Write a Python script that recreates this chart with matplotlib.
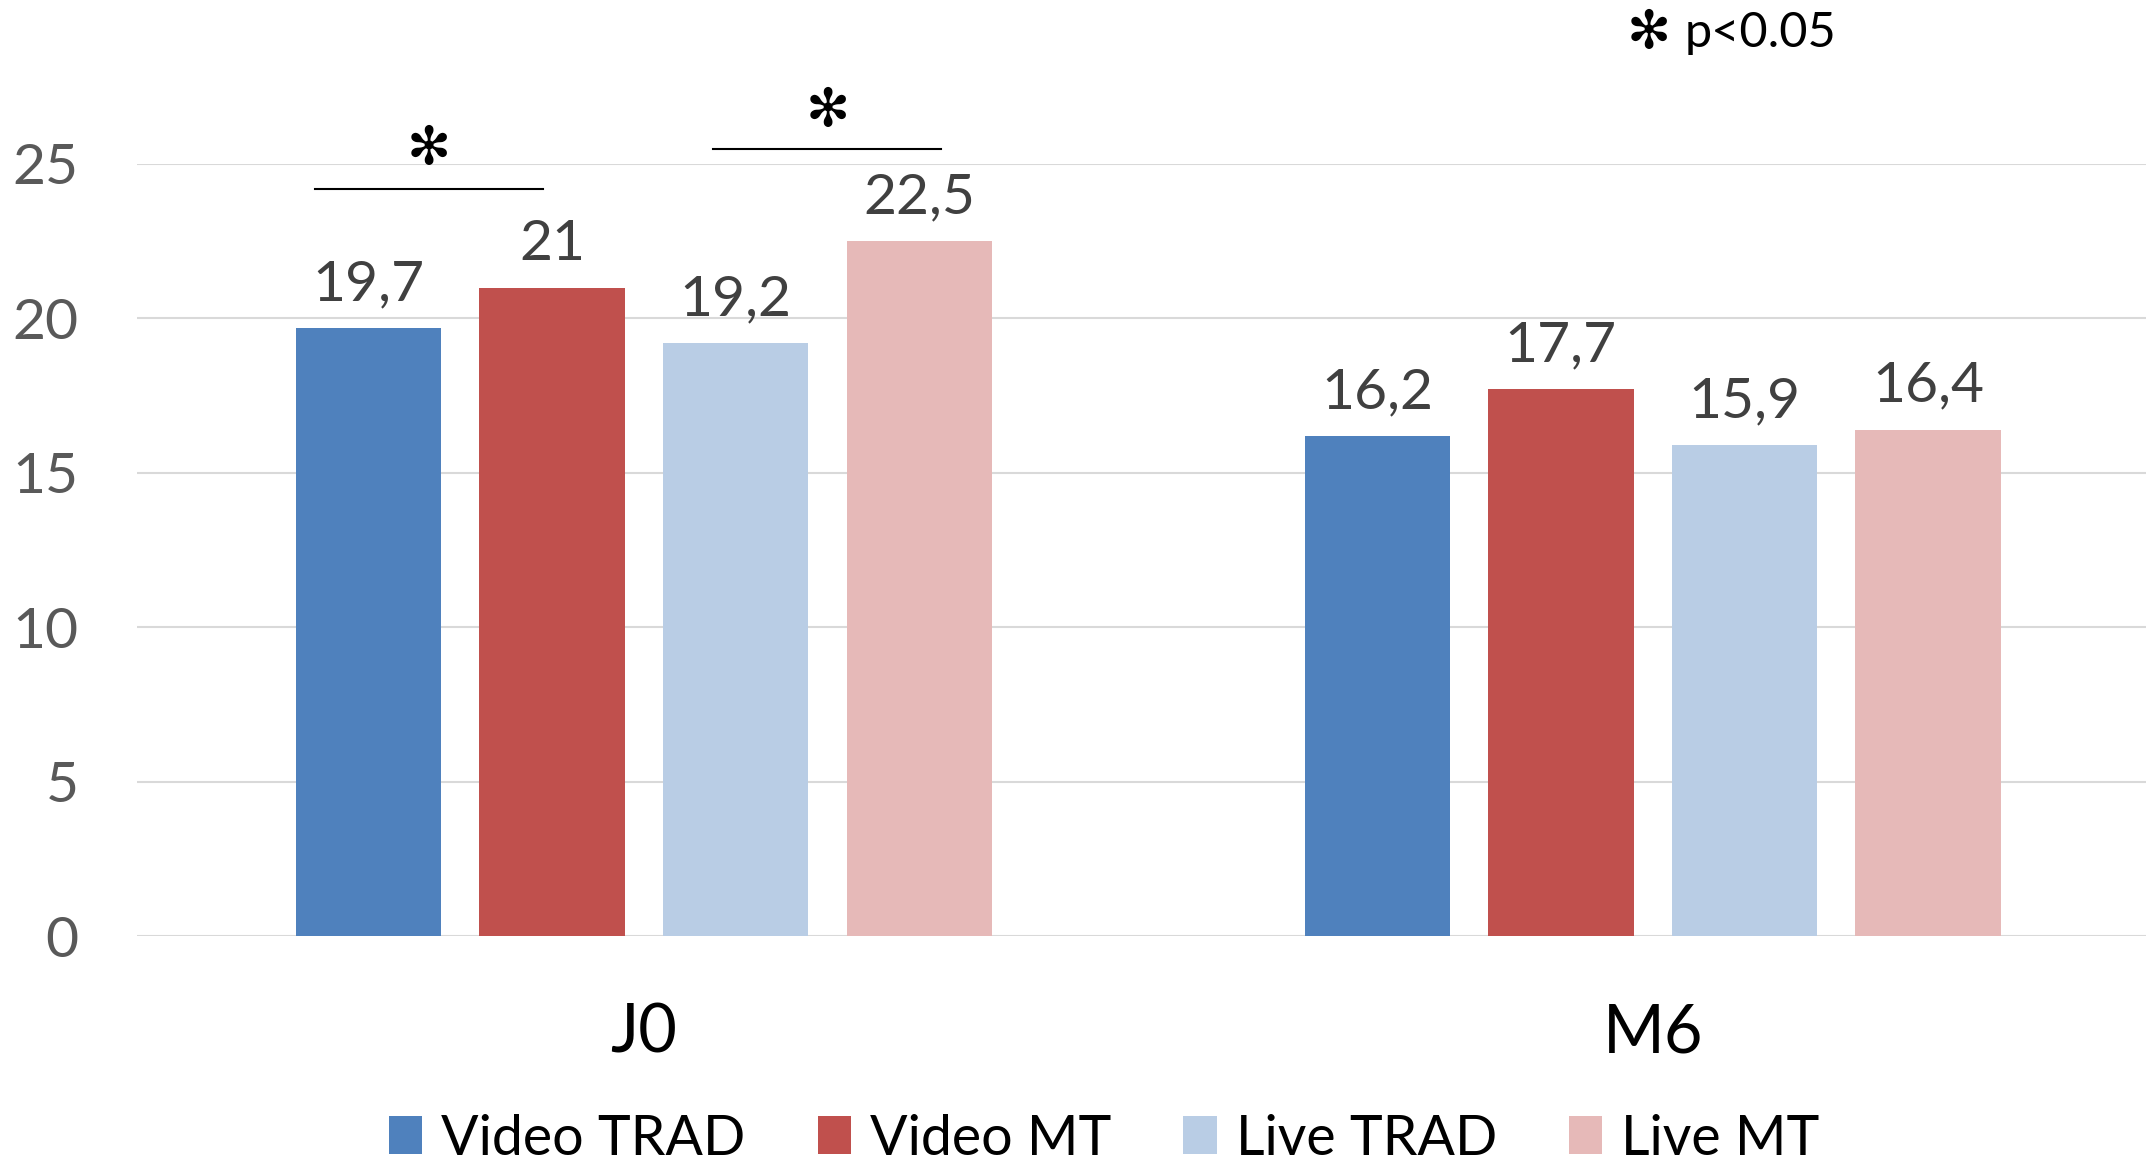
import numpy as np
import matplotlib
matplotlib.use("Agg")
import matplotlib.pyplot as plt

plt.rcParams["font.family"] = ["Lato", "DejaVu Sans"]

categories = ["J0", "M6"]
series = ["Video TRAD", "Video MT", "Live TRAD", "Live MT"]
values = {
    "Video TRAD": [19.7, 16.2],
    "Video MT": [21.0, 17.7],
    "Live TRAD": [19.2, 15.9],
    "Live MT": [22.5, 16.4],
}
labels = {
    "Video TRAD": ["19,7", "16,2"],
    "Video MT": ["21", "17,7"],
    "Live TRAD": ["19,2", "15,9"],
    "Live MT": ["22,5", "16,4"],
}
colors = ["#4F81BD", "#C0504D", "#B9CDE5", "#E6B9B8"]
yticks = [0, 5, 10, 15, 20, 25]

# significance brackets: (x start, x end, line y, star y) in data units
brackets = [(-0.326, -0.100, 24.2, 25.5), (0.069, 0.295, 25.5, 26.7)]
STAR = "✻"

fig = plt.figure(figsize=(21.46, 11.63), dpi=100)
ax = fig.add_axes([0.0638, 0.195, 0.9362, 0.664])

x = np.arange(len(categories))
step = 0.182
width = 0.144
for i, (name, col) in enumerate(zip(series, colors)):
    pos = x + (i - 1.5) * step
    bars = ax.bar(pos, values[name], width, color=col, label=name, zorder=3)
    for b, txt in zip(bars, labels[name]):
        ax.annotate(txt, (b.get_x() + b.get_width() / 2, b.get_height()),
                    xytext=(0, 20), textcoords="offset points",
                    ha="center", va="baseline", fontsize=41, color="#404040")

for x0, x1, y, ys in brackets:
    ax.plot([x0, x1], [y, y], color="black", lw=1.5, clip_on=False)
    ax.text((x0 + x1) / 2, ys, STAR, ha="center", va="center",
            fontsize=38, family="DejaVu Sans", clip_on=False)

ax.set_xlim(-0.5025, 1.489)
ax.set_ylim(0, 25)
ax.set_yticks(yticks)
ax.set_xticks(x)
ax.set_xticklabels(categories, fontsize=48)
ax.tick_params(axis="x", length=0, pad=48)
ax.tick_params(axis="y", length=0, labelsize=41, labelcolor="#595959", pad=42)
ax.grid(axis="y", color="#D9D9D9", lw=1.5, zorder=0)
for s in ax.spines.values():
    s.set_visible(False)

fig.text(0.7685, 0.972, STAR, fontsize=38, family="DejaVu Sans", va="center", ha="center")
fig.text(0.785, 0.972, "p<0.05", fontsize=35, va="center", ha="left")

fig.legend(loc="center", bbox_to_anchor=(0.5146, 0.0206), ncol=4, frameon=False,
           fontsize=40, handlelength=0.6, handleheight=0.67, columnspacing=1.3,
           handletextpad=0.34)

fig.savefig("out.png", dpi=100)
